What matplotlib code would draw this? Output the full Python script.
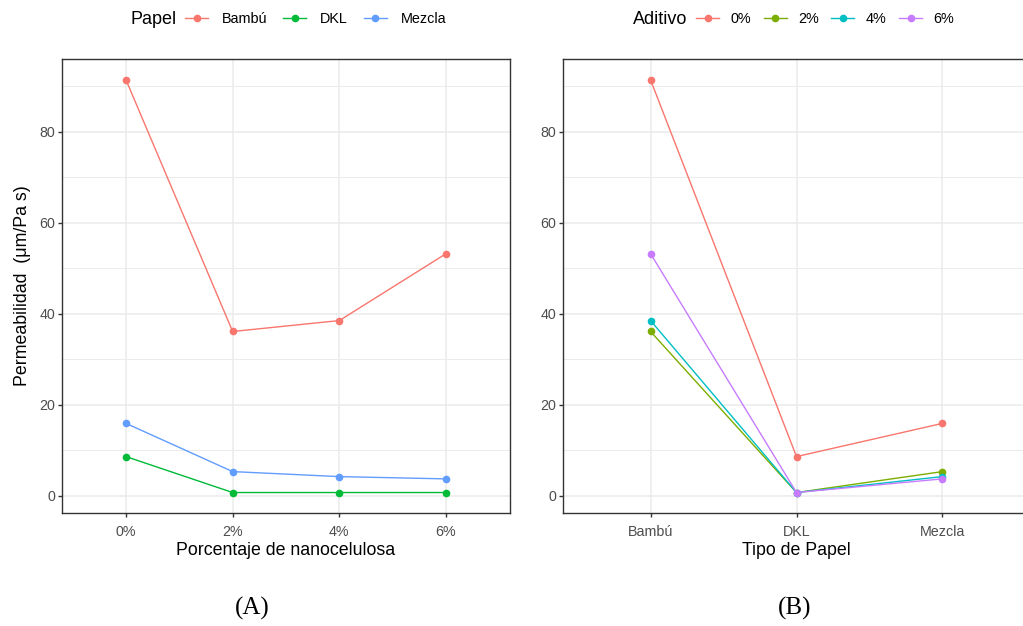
import matplotlib.pyplot as plt
from matplotlib.lines import Line2D
import numpy as np

plt.rcParams['font.family'] = ['Liberation Sans', 'DejaVu Sans']

# datos
porcentajes = ["0%", "2%", "4%", "6%"]
papeles = ["Bambú", "DKL", "Mezcla"]
bambu = [91.4, 36.1, 38.5, 53.2]
dkl = [8.6, 0.7, 0.7, 0.7]
mezcla = [15.9, 5.3, 4.2, 3.7]

colores_papel = ["#F8766D", "#00BA38", "#619CFF"]
colores_aditivo = ["#F8766D", "#7CAE00", "#00BFC4", "#C77CFF"]

W, H = 1023, 626
fig = plt.figure(figsize=(W / 100, H / 100), dpi=100)


def px_axes(l, t, r, b):
    return fig.add_axes([l / W, 1 - b / H, (r - l) / W, (b - t) / H])


def bw_theme(ax):
    ax.set_facecolor("white")
    for s in ax.spines.values():
        s.set_color("#333333")
        s.set_linewidth(1.0)
    ax.set_ylim(-3.8, 96.0)
    ax.set_yticks([0, 20, 40, 60, 80])
    ax.set_yticks([10, 30, 50, 70, 90], minor=True)
    ax.grid(True, which="major", color="#EBEBEB", lw=1.1)
    ax.grid(True, which="minor", axis="y", color="#EBEBEB", lw=0.7)
    ax.set_axisbelow(True)
    ax.tick_params(which="major", colors="#333333", labelcolor="#4D4D4D",
                   labelsize=10.3, length=3, width=1.0, pad=2)
    ax.tick_params(axis="x", which="major", pad=5.5)
    ax.tick_params(which="minor", length=0)


# panel A
ax1 = px_axes(62, 59, 510, 513)
bw_theme(ax1)
xa = np.arange(len(porcentajes))
for vals, c in zip([bambu, dkl, mezcla], colores_papel):
    ax1.plot(xa, vals, color=c, lw=1.0, marker="o", ms=4.5)
ax1.set_xticks(xa)
ax1.set_xticklabels(porcentajes)
ax1.set_xlim(-0.6, 3.6)
ax1.set_xlabel("Porcentaje de nanocelulosa", fontsize=12.8, labelpad=2.5)
ax1.set_ylabel("Permeabilidad  (μm/Pa s)", fontsize=12.8, labelpad=6)

# panel B
ax2 = px_axes(563, 59, 1030, 513)
bw_theme(ax2)
xb = np.arange(len(papeles))
datos_b = np.array([bambu, dkl, mezcla]).T
for vals, c in zip(datos_b, colores_aditivo):
    ax2.plot(xb, vals, color=c, lw=1.0, marker="o", ms=4.5)
ax2.set_xticks(xb)
ax2.set_xticklabels(papeles)
ax2.set_xlim(-0.6, 2.6)
ax2.set_xlabel("Tipo de Papel", fontsize=12.8, labelpad=2.5)

# leyendas arriba
def leyenda(titulo, tx, lx, etiquetas, colores, sep, tpad):
    fig.text(tx / W, 1 - 19 / H, titulo, fontsize=13, ha="left", va="center")
    hs = [Line2D([], [], color=c, lw=1.0, marker="o", ms=4.5) for c in colores]
    fig.legend(hs, etiquetas, loc="center left", bbox_to_anchor=(lx / W, 1 - 19 / H),
               ncol=len(etiquetas), frameon=False, fontsize=10.4, handlelength=1.6,
               handletextpad=tpad, columnspacing=sep, borderpad=0, borderaxespad=0)


leyenda("Papel", 130, 185, papeles, colores_papel, 1.1, 0.95)
leyenda("Aditivo", 633, 696, porcentajes, colores_aditivo, 0.85, 0.8)

fig.text(252 / W, 1 - 608 / H, "(A)", family="Liberation Serif", fontsize=18,
         ha="center", va="center")
fig.text(795 / W, 1 - 608 / H, "(B)", family="Liberation Serif", fontsize=18,
         ha="center", va="center")

fig.savefig("out.png", dpi=100, facecolor="white")
